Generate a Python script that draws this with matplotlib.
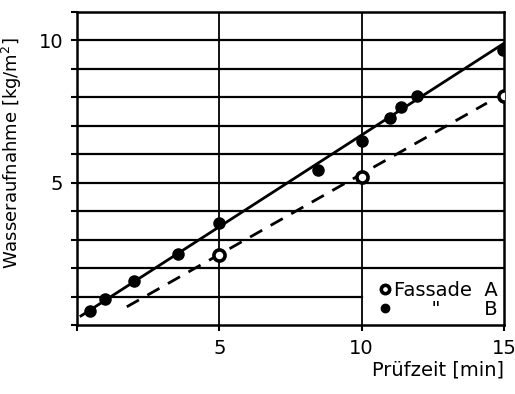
import numpy as np
import matplotlib.pyplot as plt

plt.rcParams['font.family'] = ['DejaVu Sans']

# Fassade A (open circles, dashed fit)
t_a = [5.0, 10.0, 15.0]
w_a = [2.45, 5.2, 8.05]
fit_a_t = [1.75, 14.4]
fit_a_w = [0.64, 7.8]

# Fassade B (filled circles, solid fit)
t_b = [0.46, 0.98, 2.0, 3.54, 5.0, 8.46, 10.0, 11.0, 11.37, 11.96, 14.95]
w_b = [0.5, 0.92, 1.56, 2.5, 3.6, 5.46, 6.45, 7.27, 7.66, 8.05, 9.68]
fit_b_t = [0.14, 15.0]
fit_b_w = [0.32, 9.9]

fig = plt.figure(figsize=(5.15, 3.94), dpi=100)
ax = fig.add_axes([0.1495, 0.1751, 0.8291, 0.7944])

# the lowest grid line stops where the legend starts
for y in range(1, 11):
    ax.axhline(y, xmax=(10 / 15 if y == 1 else 1), color='k', lw=1.6, zorder=1)
for x in (5, 10):
    ax.axvline(x, color='k', lw=1.3, zorder=1)

ax.plot(fit_b_t, fit_b_w, color='k', lw=2.0, zorder=2)
ax.plot(fit_a_t, fit_a_w, color='k', lw=2.0, ls=(0, (5, 3.5)), zorder=2)
ax.plot(t_b, w_b, 'o', color='k', ms=8, zorder=3, label='      "       B')
ax.plot(t_a, w_a, 'o', mfc='white', mec='k', mew=2.6, ms=8, zorder=3,
        label='Fassade  A')

ax.set_xlim(0, 15)
ax.set_ylim(0, 11)
ax.set_xticks([0, 5, 10, 15])
ax.set_xticklabels(['', '5', '10', '15'])
ax.set_yticks(range(0, 12))
ax.set_yticklabels(['5' if v == 5 else '10' if v == 10 else '' for v in range(0, 12)])
ax.tick_params(axis='both', direction='out', length=4, width=1.5, labelsize=14, pad=6)
for s in ax.spines.values():
    s.set_linewidth(1.8)

ax.set_ylabel('Wasseraufnahme [kg/m$^2$]', fontsize=13)
ax.yaxis.set_label_coords(-0.125, 0.55)
ax.set_xlabel('Prüfzeit [min]', fontsize=14, loc='right', labelpad=2)

h, l = ax.get_legend_handles_labels()
leg = ax.legend([h[1], h[0]], [l[1], l[0]], loc='lower right', fontsize=14,
                handlelength=0.4, handletextpad=0.3, borderpad=0.2,
                labelspacing=0.0, borderaxespad=0.1, markerscale=0.75,
                frameon=False)

fig.savefig('out.png', dpi=100)
